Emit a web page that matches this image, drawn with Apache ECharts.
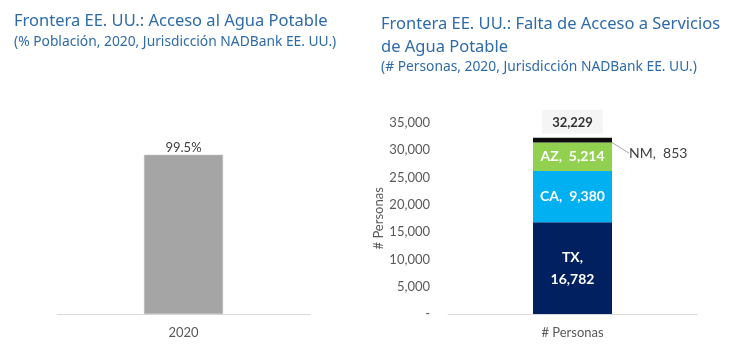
<!DOCTYPE html>
<html><head><meta charset="utf-8">
<script src="https://cdn.jsdelivr.net/npm/echarts@6/dist/echarts.min.js"></script>
<style>html,body{margin:0;padding:0;background:#fff}#c{width:742px;height:348px}</style>
</head><body><div id="c"></div>
<script>
const leftCategories = ['2020'];
const leftValues = [99.5];
const rightCategories = ['# Personas'];
const txValues = [16782];
const caValues = [9380];
const azValues = [5214];
const nmValues = [853];
const totalValues = [32229];
const seriesNames = ['TX', 'CA', 'AZ', 'NM'];

const fmt = v => Number(v).toLocaleString('en-US');
const chart = echarts.init(document.getElementById('c'));
const titleFont = 'Noto Sans';
const axFont = 'Lato';
chart.setOption({
  animation: false,
  title: [
    {text: 'Frontera EE. UU.: Acceso al Agua Potable', subtext: '(% Población, 2020, Jurisdicción NADBank EE. UU.)',
     left: 9, top: 8, itemGap: 5,
     textStyle: {fontFamily: titleFont, fontSize: 16.5, fontWeight: 'normal', color: '#2E6BA9'},
     subtextStyle: {fontFamily: titleFont, fontSize: 13.8, color: '#2E6BA9'}},
    {text: 'Frontera EE. UU.: Falta de Acceso a Servicios\nde Agua Potable', subtext: '(# Personas, 2020, Jurisdicción NADBank EE. UU.)',
     left: 376, top: 8, itemGap: 1,
     textStyle: {fontFamily: titleFont, fontSize: 16.5, fontWeight: 'normal', color: '#2E6BA9', lineHeight: 23},
     subtextStyle: {fontFamily: titleFont, fontSize: 13.8, color: '#2E6BA9'}}
  ],
  grid: [
    {left: 57, right: 432, top: 154, bottom: 34},
    {left: 448, right: 45, top: 122.7, bottom: 34}
  ],
  xAxis: [
    {type: 'category', gridIndex: 0, data: leftCategories,
     axisLine: {lineStyle: {color: '#D9D9D9'}}, axisTick: {show: false},
     axisLabel: {fontFamily: axFont, fontSize: 13, color: '#595959', margin: 12}},
    {type: 'category', gridIndex: 1, data: rightCategories,
     axisLine: {lineStyle: {color: '#D9D9D9'}}, axisTick: {show: false},
     axisLabel: {fontFamily: axFont, fontSize: 13, color: '#595959', margin: 12}}
  ],
  yAxis: [
    {type: 'value', gridIndex: 0, min: 0, max: 100, show: false, splitLine: {show: false}},
    {type: 'value', gridIndex: 1, min: 0, max: 35000, interval: 5000,
     name: '# Personas', nameLocation: 'middle', nameGap: 61, nameRotate: 90,
     nameTextStyle: {fontFamily: axFont, fontSize: 13, color: '#595959'},
     axisLine: {show: false}, axisTick: {show: false}, splitLine: {show: false},
     axisLabel: {fontFamily: axFont, fontSize: 13, color: '#595959', margin: 18,
       formatter: v => v === 0 ? '-' : fmt(v)}}
  ],
  series: [
    {type: 'bar', xAxisIndex: 0, yAxisIndex: 0, data: leftValues, barWidth: 79,
     itemStyle: {color: '#A5A5A5', borderColor: '#BFBFBF', borderWidth: 0.5},
     label: {show: true, position: 'top', distance: 0, formatter: p => p.value.toFixed(1) + '%',
       fontFamily: axFont, fontSize: 13, color: '#404040'}},
    {type: 'bar', name: seriesNames[0], stack: 's', xAxisIndex: 1, yAxisIndex: 1, data: txValues, barWidth: 79,
     itemStyle: {color: '#002060'},
     label: {show: true, position: 'inside', formatter: p => p.seriesName + ',\n' + fmt(p.value),
       fontFamily: axFont, fontSize: 14, fontWeight: 'bold', color: '#fff', lineHeight: 22}},
    {type: 'bar', name: seriesNames[1], stack: 's', xAxisIndex: 1, yAxisIndex: 1, data: caValues, barWidth: 79,
     itemStyle: {color: '#00B0F0'},
     label: {show: true, position: 'inside', formatter: p => p.seriesName + ',  ' + fmt(p.value),
       fontFamily: axFont, fontSize: 14, fontWeight: 'bold', color: '#fff'}},
    {type: 'bar', name: seriesNames[2], stack: 's', xAxisIndex: 1, yAxisIndex: 1, data: azValues, barWidth: 79,
     itemStyle: {color: '#92D050'},
     label: {show: true, position: 'inside', formatter: p => p.seriesName + ',  ' + fmt(p.value),
       fontFamily: axFont, fontSize: 14, fontWeight: 'bold', color: '#fff'}},
    {type: 'bar', name: seriesNames[3], stack: 's', xAxisIndex: 1, yAxisIndex: 1, data: nmValues, barWidth: 79,
     itemStyle: {color: '#0D0D0D'},
     label: {show: true, position: 'right', distance: 17, formatter: p => p.seriesName + ',  ' + fmt(p.value),
       fontFamily: axFont, fontSize: 14, color: '#404040'},
     labelLayout: {dy: 13},
     labelLine: {show: true, length2: 0, lineStyle: {color: '#A6A6A6', width: 1}}},
    {type: 'scatter', xAxisIndex: 1, yAxisIndex: 1, data: totalValues, symbolSize: 0, silent: true,
     label: {show: true, position: 'top', distance: 4, formatter: p => fmt(p.value),
       fontFamily: axFont, fontSize: 13, fontWeight: 'bold', color: '#000',
       backgroundColor: '#F2F2F2', padding: [6, 10, 5, 10]}}
  ]
});
</script></body></html>
